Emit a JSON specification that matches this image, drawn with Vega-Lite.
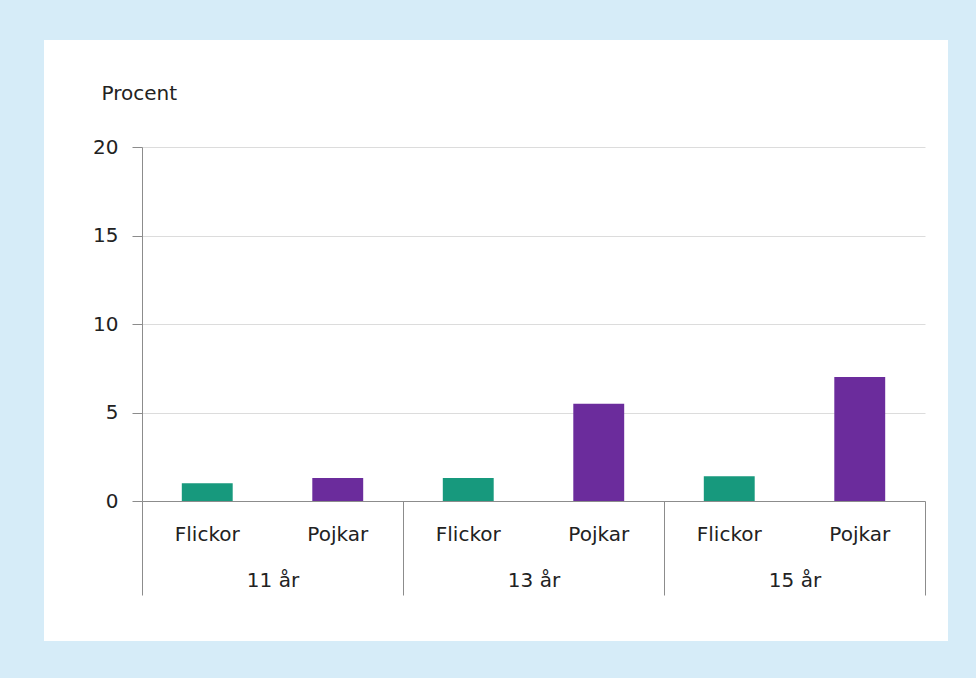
{
  "$schema": "https://vega.github.io/schema/vega-lite/v6.json",
  "width": 904,
  "height": 601,
  "autosize": {"type": "none"},
  "padding": {"left": 44, "top": 40, "right": 28, "bottom": 37},
  "background": "#d6ecf8",
  "config": {
    "view": {"fill": "#ffffff", "stroke": null},
    "font": "DejaVu Sans",
    "axis": {
      "labelFont": "DejaVu Sans",
      "titleFont": "DejaVu Sans",
      "labelFontSize": 20,
      "titleFontSize": 20,
      "labelColor": "#222222",
      "titleColor": "#222222",
      "titleFontWeight": "normal",
      "domainColor": "#8c8c8c",
      "tickColor": "#8c8c8c",
      "gridColor": "#dcdcdc"
    }
  },
  "data": {
    "values": [
      {"grupp": "11 år", "kon": "Flickor", "procent": 1.0},
      {"grupp": "11 år", "kon": "Pojkar", "procent": 1.3},
      {"grupp": "13 år", "kon": "Flickor", "procent": 1.3},
      {"grupp": "13 år", "kon": "Pojkar", "procent": 5.5},
      {"grupp": "15 år", "kon": "Flickor", "procent": 1.4},
      {"grupp": "15 år", "kon": "Pojkar", "procent": 7.0}
    ]
  },
  "encoding": {
    "x": {
      "field": "grupp",
      "type": "nominal",
      "sort": ["11 år", "13 år", "15 år"],
      "scale": {"range": [98, 881], "paddingInner": 0, "paddingOuter": 0},
      "axis": {
        "title": null,
        "offset": -140,
        "tickBand": "extent",
        "tickSize": 94,
        "labelPadding": -25,
        "labelAngle": 0,
        "labelBaseline": "top",
        "grid": false
      }
    },
    "xOffset": {
      "field": "kon",
      "type": "nominal",
      "sort": ["Flickor", "Pojkar"],
      "scale": {"paddingInner": 0.61, "paddingOuter": 0.305}
    }
  },
  "layer": [
    {
      "mark": {"type": "bar"},
      "encoding": {
        "y": {
          "field": "procent",
          "type": "quantitative",
          "scale": {"domain": [0, 20], "range": [461, 107], "nice": false},
          "axis": {
            "title": "Procent",
            "titleAngle": 0,
            "titleAlign": "left",
            "titleBaseline": "middle",
            "titleX": -41,
            "titleY": 53,
            "offset": -98,
            "values": [0, 5, 10, 15, 20],
            "tickSize": 10,
            "labelPadding": 14,
            "grid": true
          }
        },
        "color": {
          "field": "kon",
          "type": "nominal",
          "scale": {"domain": ["Flickor", "Pojkar"], "range": ["#17997d", "#6b2c9c"]},
          "legend": null
        }
      }
    },
    {
      "mark": {
        "type": "text",
        "baseline": "alphabetic",
        "dy": 40,
        "fontSize": 20,
        "font": "DejaVu Sans",
        "color": "#222222"
      },
      "encoding": {
        "y": {"datum": 0, "type": "quantitative"},
        "text": {"field": "kon", "type": "nominal"}
      }
    }
  ]
}
